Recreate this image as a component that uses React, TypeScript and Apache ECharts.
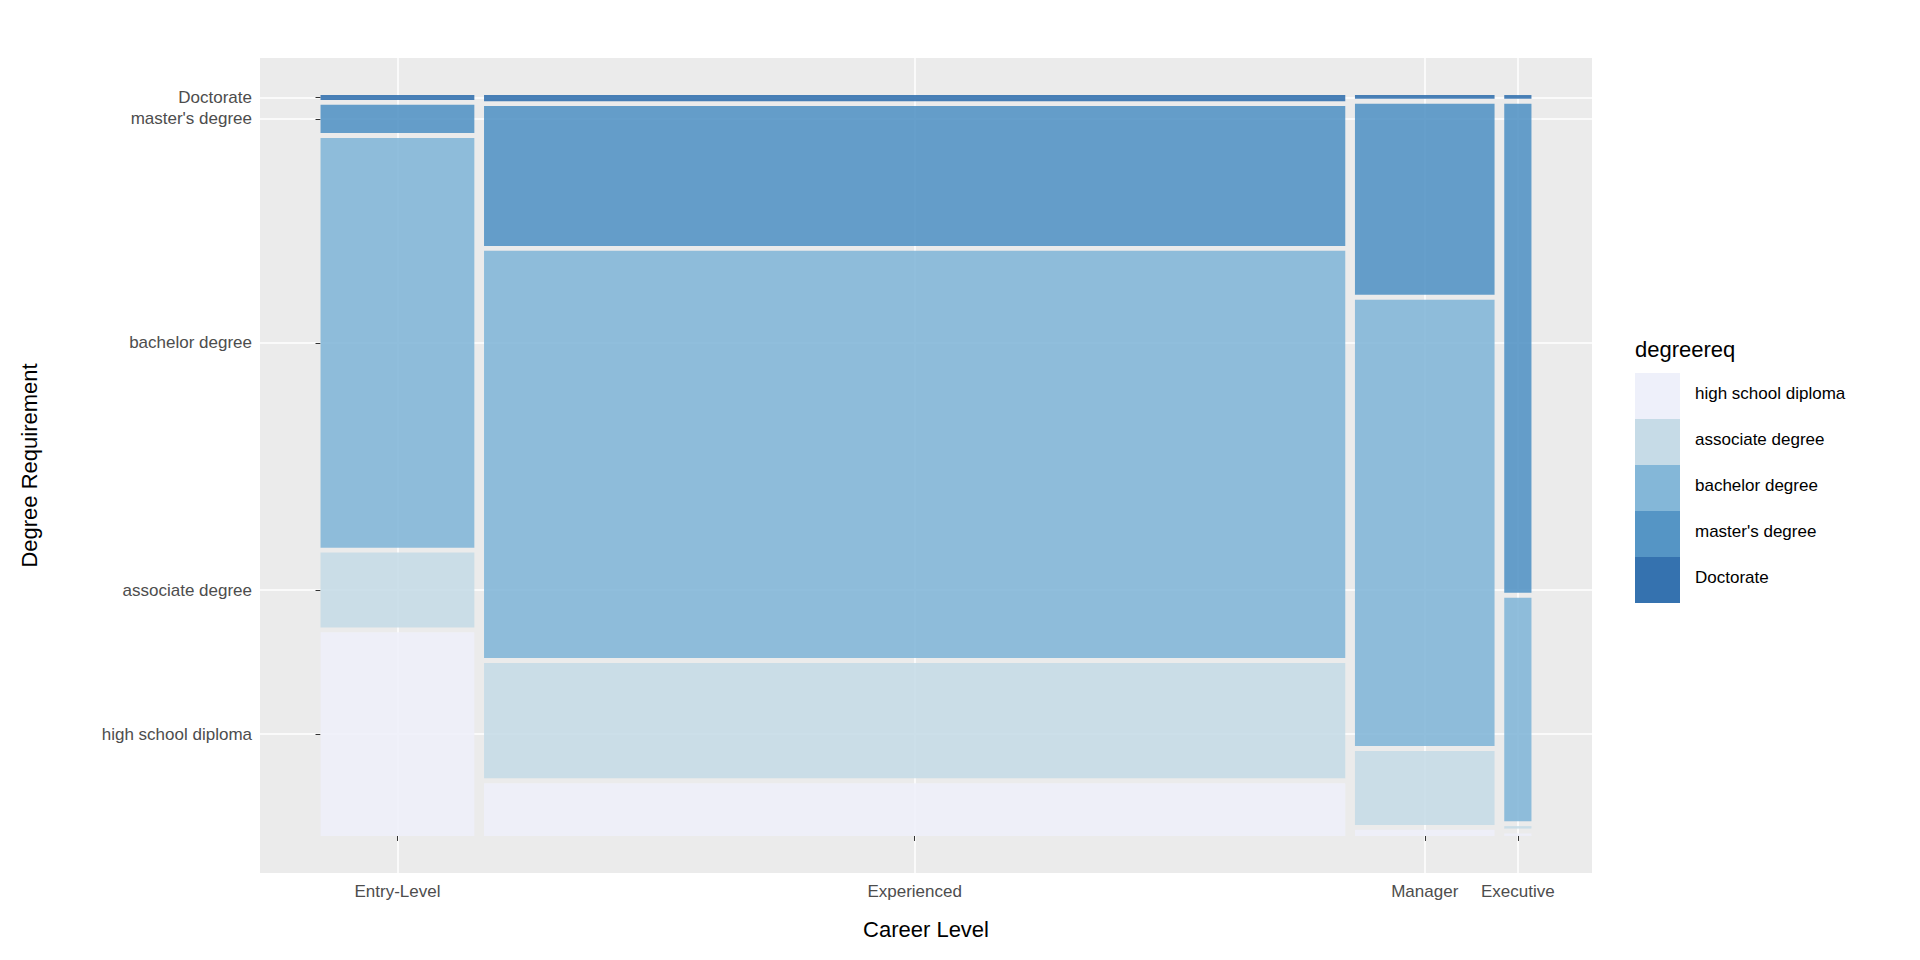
import { useEffect, useRef } from "react";
import * as echarts from "echarts";

const careerLevels = ["Entry-Level", "Experienced", "Manager", "Executive"];
const degreeLevels = ["high school diploma", "associate degree", "bachelor degree", "master's degree", "Doctorate"];
const degreeColors = ["#EEF0FA", "#C6DBE7", "#84B7D8", "#5595C5", "#3572AF"];
const careerShare = [0.13, 0.728, 0.118, 0.023];
// segment heights per career level, bottom to top
const entryCounts = [166, 61, 334, 23, 4];
const experiencedCounts = [43, 94, 332, 114, 5];
const managerCounts = [5, 60, 362, 155, 3];
const executiveCounts = [2, 2, 181, 396, 3];
const segmentCounts = [entryCounts, experiencedCounts, managerCounts, executiveCounts];

const gapX = 0.008;
const gapY = 0.0066;

function buildRects() {
  const rects: number[][] = [];
  const totalShare = careerShare.reduce((a, b) => a + b, 0);
  const availX = 1 - gapX * (careerLevels.length - 1);
  let x = 0;
  const xCenters: number[] = [];
  const yCenters: number[] = [];
  careerShare.forEach((s, ci) => {
    const w = (s / totalShare) * availX;
    const counts = segmentCounts[ci];
    const tot = counts.reduce((a, b) => a + b, 0);
    const availY = 1 - gapY * (counts.length - 1);
    let y = 0;
    counts.forEach((c, di) => {
      const h = (c / tot) * availY;
      rects.push([x, y, x + w, y + h, di]);
      if (ci === 0) yCenters.push(y + h / 2);
      y += h + gapY;
    });
    xCenters.push(x + w / 2);
    x += w + gapX;
  });
  return { rects, xCenters, yCenters };
}

export default function App() {
  const chartRef = useRef<HTMLDivElement>(null);

  useEffect(() => {
    document.body.style.margin = "0";
    if (!chartRef.current) return;
    const chart = echarts.init(chartRef.current, null, { renderer: "svg" });
    const { rects, xCenters, yCenters } = buildRects();
    const font = "Liberation Sans, Arial, sans-serif";

    const legend: any[] = [
      { type: "text", left: 1635, top: 338, style: { text: "degreereq", fontSize: 22, fontFamily: font, fill: "#000" } },
    ];
    degreeLevels.forEach((d, i) => {
      legend.push({ type: "rect", left: 1635, top: 373 + i * 46, shape: { width: 45, height: 46 }, style: { fill: degreeColors[i] } });
      legend.push({ type: "text", left: 1695, top: 385 + i * 46, style: { text: d, fontSize: 17, fontFamily: font, fill: "#000" } });
    });

    chart.setOption({
      animation: false,
      grid: { left: 260, right: 328, top: 58, bottom: 87, backgroundColor: "#EBEBEB", show: true, borderWidth: 0 },
      xAxis: {
        type: "value", min: -0.05, max: 1.05,
        name: "Career Level", nameLocation: "middle", nameGap: 45,
        nameTextStyle: { fontSize: 22, fontFamily: font, color: "#000" },
        axisLine: { show: false },
        axisTick: { show: true, customValues: xCenters, length: 5, lineStyle: { color: "#333" } },
        axisLabel: {
          customValues: xCenters, fontSize: 17, fontFamily: font, color: "#4D4D4D", margin: 10,
          formatter: (v: number) => careerLevels[xCenters.findIndex((c) => Math.abs(c - v) < 1e-9)] ?? "",
        },
        splitLine: { show: true, lineStyle: { color: "#fff", width: 1.5 } },
      },
      yAxis: {
        type: "value", min: -0.05, max: 1.05,
        name: "Degree Requirement", nameLocation: "middle", nameGap: 220, nameRotate: 90,
        nameTextStyle: { fontSize: 22, fontFamily: font, color: "#000" },
        axisLine: { show: false },
        axisTick: { show: true, customValues: yCenters, length: 5, lineStyle: { color: "#333" } },
        axisLabel: {
          customValues: yCenters, fontSize: 17, fontFamily: font, color: "#4D4D4D", margin: 8,
          formatter: (v: number) => degreeLevels[yCenters.findIndex((c) => Math.abs(c - v) < 1e-9)] ?? "",
        },
        splitLine: { show: true, lineStyle: { color: "#fff", width: 1.5 } },
      },
      series: [
        {
          type: "custom",
          data: rects,
          renderItem: (params: any, api: any) => {
            const p0 = api.coord([api.value(0), api.value(1)]);
            const p1 = api.coord([api.value(2), api.value(3)]);
            return {
              type: "rect",
              shape: { x: p0[0], y: p1[1], width: p1[0] - p0[0], height: p0[1] - p1[1] },
              style: { fill: degreeColors[api.value(4)], opacity: 0.9 },
            };
          },
        },
      ],
      graphic: legend,
    });
    return () => chart.dispose();
  }, []);

  return <div ref={chartRef} style={{ width: 1920, height: 960, background: "#fff" }} />;
}
